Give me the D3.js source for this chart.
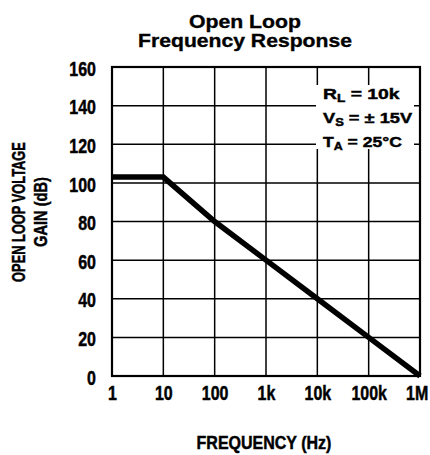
<!DOCTYPE html>
<html>
<head>
<meta charset="utf-8">
<script src="https://cdn.jsdelivr.net/npm/d3@7/dist/d3.min.js"></script>
<style>
  html, body { margin: 0; padding: 0; background: #fff; }
  svg { display: block; }
  text { font-family: "Liberation Sans", Arial, Helvetica, sans-serif; font-weight: bold; fill: #000; }
  .heavy { stroke: #000; stroke-width: 0.45px; }
</style>
</head>
<body>
<script>
// ---- data ----
const freqTicks = [1, 10, 100, 1e3, 1e4, 1e5, 1e6];
const freqLabels = ["1", "10", "100", "1k", "10k", "100k", "1M"];
const gainTicks = [0, 20, 40, 60, 80, 100, 120, 140, 160];
const curveFreq = [1, 10, 100, 1e3, 1e4, 1e5, 1e6];
const curveGain = [103, 103, 80, 60, 40, 20, 0];
const titleLines = ["Open Loop", "Frequency Response"];
const yTitleLines = ["OPEN LOOP VOLTAGE", "GAIN (dB)"];
const xTitle = "FREQUENCY (Hz)";

const W = 430, H = 455;
const svg = d3.select("body").append("svg").attr("width", W).attr("height", H);

const x = d3.scaleLog().domain([1, 1e6]).range([112, 420]);
const y = d3.scaleLinear().domain([0, 160]).range([376, 67]);

// squeeze a text element horizontally (about its anchor at x=ax) to a target width
function squeeze(t, target, ax) {
  const w = t.node().getBBox().width;
  const s = target / w;
  t.attr("transform", `translate(${ax},0) scale(${s},1) translate(${-ax},0)`);
}

// title
const titleW = [112, 214];
titleLines.forEach((line, i) => {
  const t = svg.append("text")
    .attr("x", 245).attr("y", 28 + i * 19).attr("text-anchor", "middle")
    .style("font-size", "18.5px").attr("stroke", "#000").attr("stroke-width", 0.35)
    .text(line);
  squeeze(t, titleW[i], 245);
});

// grid
const grid = svg.append("g").attr("stroke", "#000").attr("stroke-width", 1.5);
grid.selectAll("line.v").data(freqTicks.slice(1, -1)).join("line")
  .attr("class", "v")
  .attr("x1", d => x(d)).attr("x2", d => x(d))
  .attr("y1", y(0)).attr("y2", y(160));
grid.selectAll("line.h").data(gainTicks.slice(1, -1)).join("line")
  .attr("class", "h")
  .attr("x1", x(1)).attr("x2", x(1e6))
  .attr("y1", d => y(d)).attr("y2", d => y(d));

// annotation background (blanks grid behind text)
svg.append("rect").attr("x", 316).attr("y", 85).attr("width", 98).attr("height", 64).attr("fill", "#fff");

// frame
svg.append("rect")
  .attr("x", x(1)).attr("y", y(160))
  .attr("width", x(1e6) - x(1)).attr("height", y(0) - y(160))
  .attr("fill", "none").attr("stroke", "#000").attr("stroke-width", 2.2);

// curve
const pts = curveFreq.map((f, i) => [f, curveGain[i]]);
svg.append("path")
  .datum(pts)
  .attr("d", d3.line().x(d => x(d[0])).y(d => y(d[1])))
  .attr("fill", "none").attr("stroke", "#000").attr("stroke-width", 5.5)
  .attr("stroke-linejoin", "miter");

// axes
const xAxis = d3.axisBottom(x).tickValues(freqTicks).tickFormat((d, i) => freqLabels[i]).tickSize(0).tickPadding(0);
const gx = svg.append("g").attr("transform", "translate(0,400)").call(xAxis);
gx.select(".domain").remove();
gx.selectAll("text").style("font-size", "19.5px").attr("dy", null).attr("y", 0)
  .attr("fill", "#000").attr("class", "heavy")
  .attr("x", (d, i) => i === freqTicks.length - 1 ? -4 : 0)
  .attr("transform", "scale(0.82,1)");

const yAxis = d3.axisLeft(y).tickValues(gainTicks).tickSize(0).tickPadding(0);
const gy = svg.append("g").attr("transform", "translate(96,0)").call(yAxis);
gy.select(".domain").remove();
gy.selectAll("text").style("font-size", "19.5px").attr("dy", "0.42em").attr("x", 0)
  .attr("fill", "#000").attr("class", "heavy").attr("transform", "scale(0.82,1)");
svg.selectAll("g[font-family]").attr("font-family", null).attr("font-size", null);

// axis titles
const xt = svg.append("text").attr("class", "heavy")
  .attr("x", 264).attr("y", 449).attr("text-anchor", "middle")
  .style("font-size", "18px").text(xTitle);
squeeze(xt, 135, 264);

const yTitleW = [140, 70];
yTitleLines.forEach((line, i) => {
  const g = svg.append("g").attr("transform", `translate(${25 + i * 22},212) rotate(-90)`);
  const t = g.append("text").attr("class", "heavy").attr("x", 0).attr("y", 0).attr("text-anchor", "middle")
    .style("font-size", "18px").text(line);
  squeeze(t, yTitleW[i], 0);
});

// annotation text
const annW = [77, 90, 79];
function annLine(i, yb, main, sub, rest) {
  const t = svg.append("text").attr("class", "heavy").style("font-size", "15.5px")
    .attr("x", 323).attr("y", yb);
  t.append("tspan").text(main);
  t.append("tspan").attr("dy", 3).style("font-size", "11px").text(sub);
  t.append("tspan").attr("dy", -3).text(rest);
  squeeze(t, annW[i], 323);
}
annLine(0, 99, "R", "L", " = 10k");
annLine(1, 123, "V", "S", " = \u00B1 15V");
annLine(2, 147, "T", "A", " = 25\u00B0C");
</script>
</body>
</html>
